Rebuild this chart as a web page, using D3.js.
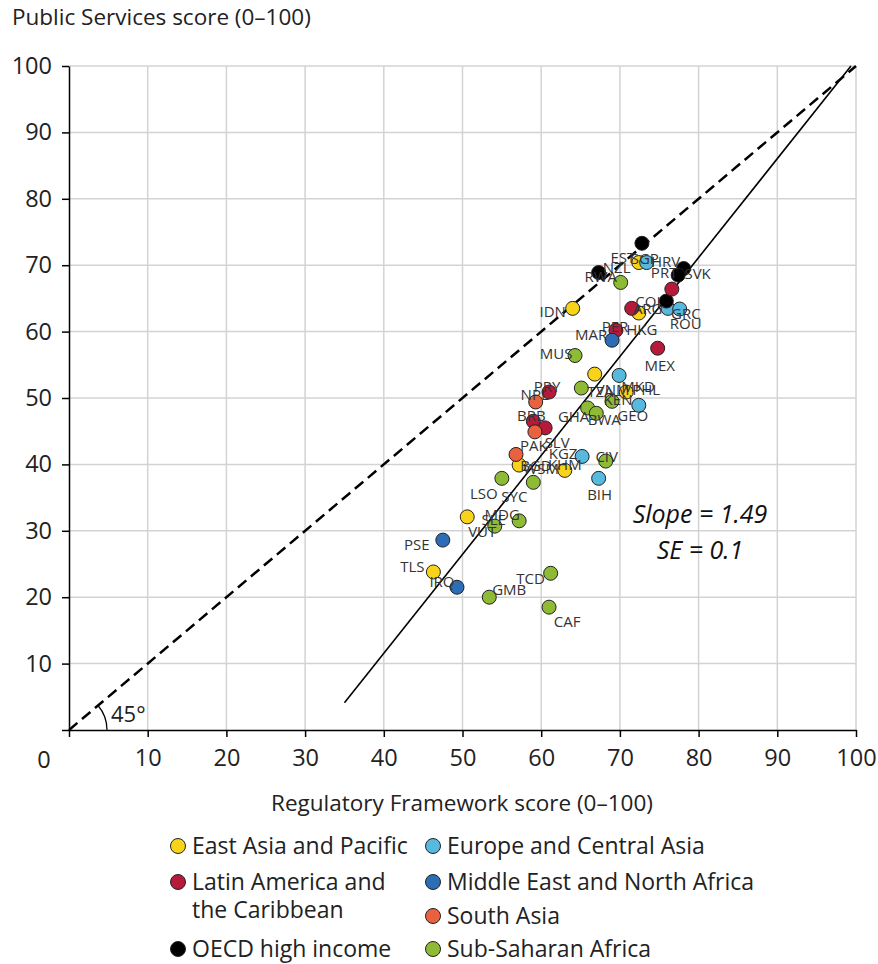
<!DOCTYPE html>
<html><head><meta charset="utf-8">
<script src="https://cdn.jsdelivr.net/npm/d3@7"></script>
<style>
body{margin:0;background:#fff;}
text{font-family:"Open Sans","Noto Sans",sans-serif;}
</style></head>
<body><svg id="c" width="878" height="964"></svg>
<script>
// ---------- DATA ----------
const regions = ["East Asia and Pacific","Europe and Central Asia","Latin America and the Caribbean","Middle East and North Africa","OECD high income","South Asia","Sub-Saharan Africa"];
const regionColors = ["#f9d21a","#56b9dd","#b51a3b","#2d6db5","#000000","#e8623f","#8fba36"];

const countryCodes = ["IDN","SGP","HKG","VNM","PHL","WSM","KHM","VUT","TLS",
  "HRV","GRC","ROU","MKD","GEO","KGZ","BIH",
  "EST","NZL","SVK","PRT","CHL",
  "COL","ARG","PER","MEX","PRY","BRB","SLV",
  "MAR","PSE","IRQ",
  "NPL","PAK","BGD",
  "RWA","MUS","TZA","KEN","GHA","BWA","CIV","LSO","SYC","SLE","MDG","TCD","GMB","CAF"];
const countryRegion = [0,0,0,0,0,0,0,0,0,
  1,1,1,1,1,1,1,
  4,4,4,4,4,
  2,2,2,2,2,2,2,
  3,3,3,
  5,5,5,
  6,6,6,6,6,6,6,6,6,6,6,6,6,6];
const regulatoryScore = [64.0,72.4,72.4,66.8,70.8,57.2,63.0,50.6,46.3,
  73.4,76.1,77.6,69.9,72.4,65.2,67.3,
  72.8,67.3,78.1,77.4,75.9,
  76.6,71.5,69.5,74.8,61.0,59.0,60.5,
  69.0,47.5,49.3,
  59.3,59.2,56.8,
  70.1,64.3,65.1,69.0,65.9,67.0,68.2,55.0,59.0,54.1,57.2,61.2,53.4,61.0];
const publicScore = [63.5,70.4,62.8,53.6,50.9,39.9,39.1,32.1,23.8,
  70.4,63.5,63.4,53.4,48.9,41.2,37.9,
  73.3,68.9,69.5,68.5,64.6,
  66.4,63.5,60.2,57.5,50.9,46.5,45.5,
  58.7,28.6,21.5,
  49.4,44.9,41.5,
  67.4,56.4,51.5,49.5,48.5,47.7,40.5,37.9,37.3,30.7,31.5,23.6,20.0,18.5];
const axisTicks = [0,10,20,30,40,50,60,70,80,90,100];
const fitSlope = 1.49, fitIntercept = -48.05, fitStartX = 35;
const fitLabels = ["Slope = 1.49","SE = 0.1"];

// ---------- LAYOUT (label placement, px offsets) ----------
const labelOffsets = {
  IDN:[-20,4],SGP:[6,-4],HKG:[3,17],VNM:[18,16],PHL:[20,-2],WSM:[22,4],KHM:[0,-5],VUT:[15,15],TLS:[-21,-5],
  HRV:[19,-1],GRC:[18,6],ROU:[6,15],MKD:[19,12],GEO:[-6,11],KGZ:[-19,-2],BIH:[1,17],
  EST:[-19,15],NZL:[18,-5],SVK:[14,5],PRT:[-14,-2],CHL:null,
  COL:[-22,13],ARG:[16,1],PER:[-1,-3],MEX:[2,18],PRY:[-2,-5],BRB:[-2,-5],SLV:[12,15],
  MAR:[-21,-5],PSE:[-26,5],IRQ:[-15,-5],
  NPL:[-1,-7],PAK:[-1,14],BGD:[20,12],
  RWA:[-20,-5],MUS:[-19,-2],TZA:[19,4],KEN:[6,-1],GHA:[-14,9],BWA:[8,7],CIV:[1,-4],LSO:[-18,16],SYC:[-19,15],
  SLE:[-1,-6],MDG:[-17,-6],TCD:[-20,6],GMB:[20,-7],CAF:[18,15]
};

// ---------- CHART ----------
const svg = d3.select("#c");
const x = d3.scaleLinear().domain([0,100]).range([69,856]);
const y = d3.scaleLinear().domain([0,100]).range([730,66]);

// grid
const grid = svg.append("g");
axisTicks.filter(d=>d>0).forEach(t=>{
  grid.append("line").attr("x1",x(t)).attr("x2",x(t)).attr("y1",y(0)).attr("y2",y(100))
    .attr("stroke","#d3d3d3").attr("stroke-width",1.5);
  grid.append("line").attr("x1",x(0)).attr("x2",x(100)).attr("y1",y(t)).attr("y2",y(t))
    .attr("stroke","#d3d3d3").attr("stroke-width",1.5);
});

// axes
const yAxis = svg.append("g").attr("transform",`translate(${x(0)},0)`)
  .call(d3.axisLeft(y).tickValues(axisTicks).tickSize(7).tickSizeOuter(0).tickPadding(10)
    .tickFormat(d=> d===0 ? "" : d));
const xAxis = svg.append("g").attr("transform",`translate(0,${y(0)})`)
  .call(d3.axisBottom(x).tickValues(axisTicks).tickSize(7).tickSizeOuter(0).tickPadding(12)
    .tickFormat(d=> d===0 ? "" : d));
[yAxis,xAxis].forEach(g=>{
  g.selectAll("path.domain").attr("stroke","#000").attr("stroke-width",1.5);
  g.selectAll(".tick line").attr("stroke","#000").attr("stroke-width",1.5);
  g.selectAll(".tick text").attr("font-size",23.5).attr("fill","#222").attr("font-family","Open Sans");
});
// corner zero label
svg.append("text").attr("x",x(0)-25).attr("y",y(0)+38).attr("text-anchor","middle")
  .attr("font-size",23.5).attr("fill","#222").text("0");

// 45 degree line
svg.append("line").attr("x1",x(0)).attr("y1",y(0)).attr("x2",x(100)).attr("y2",y(100))
  .attr("stroke","#000").attr("stroke-width",2.5).attr("stroke-dasharray","11,6");
// fit line
const fitEndX = (100 - fitIntercept)/fitSlope;
svg.append("line").attr("x1",x(fitStartX)).attr("y1",y(fitSlope*fitStartX+fitIntercept))
  .attr("x2",x(fitEndX)).attr("y2",y(100)).attr("stroke","#000").attr("stroke-width",1.6);

// 45 deg arc
const r = 38;
const ang = Math.atan2(y(0)-y(100), x(100)-x(0));
svg.append("path").attr("d",`M${x(0)+r},${y(0)} A${r},${r} 0 0 0 ${x(0)+r*Math.cos(ang)},${y(0)-r*Math.sin(ang)}`)
  .attr("fill","none").attr("stroke","#000").attr("stroke-width",1.2);
svg.append("text").attr("x",x(0)+42).attr("y",y(0)-8).attr("font-size",22).attr("fill","#222").text("45°");

// points
const pts = countryCodes.map((c,i)=>({code:c, reg:countryRegion[i], x:regulatoryScore[i], y:publicScore[i]}));
const pg = svg.append("g");
pg.selectAll("circle").data(pts).enter().append("circle")
  .attr("cx",d=>x(d.x)).attr("cy",d=>y(d.y)).attr("r",7)
  .attr("fill",d=>regionColors[d.reg]).attr("stroke","#222").attr("stroke-width",1);
// labels
pg.selectAll("text").data(pts.filter(d=>labelOffsets[d.code])).enter().append("text")
  .attr("x",d=>x(d.x)+labelOffsets[d.code][0]).attr("y",d=>y(d.y)+labelOffsets[d.code][1]+5)
  .attr("text-anchor","middle").attr("font-size",15).attr("font-family","Lato").attr("fill","#333").text(d=>d.code);

// slope text
svg.append("text").attr("x",700).attr("y",523).attr("text-anchor","middle").attr("font-size",25)
  .attr("font-style","italic").attr("fill","#111").text(fitLabels[0]);
svg.append("text").attr("x",700).attr("y",559).attr("text-anchor","middle").attr("font-size",25)
  .attr("font-style","italic").attr("fill","#111").text(fitLabels[1]);

// axis titles
svg.append("text").attr("x",12).attr("y",25).attr("font-size",22.5).attr("fill","#222").text("Public Services score (0–100)");
svg.append("text").attr("x",462).attr("y",811).attr("text-anchor","middle").attr("font-size",22.5).attr("fill","#222").text("Regulatory Framework score (0–100)");

// legend
const legendLayout = [
  {reg:0, cx:178, cy:846, lines:["East Asia and Pacific"]},
  {reg:2, cx:178, cy:882, lines:["Latin America and","the Caribbean"]},
  {reg:4, cx:178, cy:949, lines:["OECD high income"]},
  {reg:1, cx:433, cy:846, lines:["Europe and Central Asia"]},
  {reg:3, cx:433, cy:882, lines:["Middle East and North Africa"]},
  {reg:5, cx:433, cy:916, lines:["South Asia"]},
  {reg:6, cx:433, cy:949, lines:["Sub-Saharan Africa"]}
];
const lg = svg.append("g");
legendLayout.forEach(l=>{
  lg.append("circle").attr("cx",l.cx).attr("cy",l.cy).attr("r",7.5)
    .attr("fill",regionColors[l.reg]).attr("stroke","#222").attr("stroke-width",1);
  l.lines.forEach((t,j)=>{
    lg.append("text").attr("x",l.cx+14).attr("y",l.cy+8+j*28).attr("font-size",23).attr("fill","#222").text(t);
  });
});
</script></body></html>
